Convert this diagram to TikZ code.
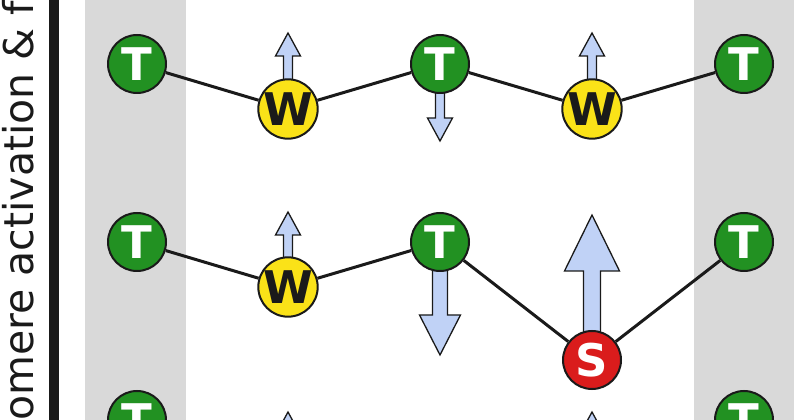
\documentclass[tikz,border=0pt]{standalone}
\usepackage{fontspec}
\setmainfont{DejaVu Sans}
\usetikzlibrary{calc}

\definecolor{tgreen}{RGB}{34,145,34}
\definecolor{wyellow}{RGB}{250,226,24}
\definecolor{sred}{RGB}{218,28,28}
\definecolor{arrblue}{RGB}{192,210,246}
\definecolor{outl}{RGB}{26,26,26}
\definecolor{bandgray}{RGB}{217,217,217}

\pgfdeclarelayer{back}
\pgfsetlayers{back,main}

% block arrow: start, direction (1 up / -1 down), length, shaft half width, head half width, head length
\newcommand{\blockarrow}[6]{%
  \draw[arr,shift={(#1)},yscale=#2] (-#4,0) -- (-#4,#3-#6) -- (-#5,#3-#6)
    -- (0,#3) -- (#5,#3-#6) -- (#4,#3-#6) -- (#4,0) -- cycle;}

\begin{document}
\begin{tikzpicture}[x=1pt,y=1pt,
      mer/.style={circle,draw=outl,line width=2pt,minimum size=58pt,inner sep=0pt,
        font=\fontsize{45}{45}\selectfont\bfseries,text height=32.8pt,text depth=0pt},
      tnode/.style={mer,fill=tgreen,text=white},
      wnode/.style={mer,fill=wyellow,text=outl},
      snode/.style={mer,fill=sred,text=white},
      link/.style={draw=outl,line width=3pt},
      arr/.style={draw=outl,fill=arrblue,line width=1.3pt,line join=miter},
      sidetext/.style={rotate=90,anchor=base west,inner sep=0pt,text=outl,
        font=\fontsize{41}{41}\selectfont}]
      \useasboundingbox (0,0) rectangle (800,420);
      \clip (0,0) rectangle (800,420);

      \begin{pgfonlayer}{back}
      \fill[bandgray] (85,0) rectangle (186,420);
      \fill[bandgray] (694,0) rectangle (794,420);
      \fill[outl] (49,0) rectangle (59,420);
      \end{pgfonlayer}

      \node[sidetext] (title) at (33,-1) {omere activation \& f};

      % top row
      \node[tnode] (t1) at (137,356) {T};
      \node[wnode] (w1) at (288,311) {W};
      \node[tnode] (t2) at (440,356) {T};
      \node[wnode] (w2) at (592,311) {W};
      \node[tnode] (t3) at (744,356) {T};

      % middle row
      \node[tnode] (t4) at (137,178) {T};
      \node[wnode] (w3) at (288,133) {W};
      \node[tnode] (t5) at (440,178) {T};
      \node[snode] (s1) at (592,60) {S};
      \node[tnode] (t6) at (744,178) {T};

      % bottom row (cut off)
      \node[tnode] (t7) at (137,0) {T};
      \node[tnode] (t8) at (744,0) {T};
      \coordinate (w4) at (288,-68);
      \coordinate (w5) at (592,-68);

      \path[link]
      (t1) edge (w1)
      (w1) edge (t2)
      (t2) edge (w2)
      (w2) edge (t3)

      (t4) edge (w3)
      (w3) edge (t5)
      (t5) edge (s1)
      (s1) edge (t6)
      ;

      \begin{pgfonlayer}{back}
      \blockarrow{w1}{1}{76}{4.5}{12.5}{23}
      \blockarrow{t2}{-1}{77}{4.5}{12.5}{23}
      \blockarrow{w2}{1}{76}{4.5}{12.5}{23}
      \blockarrow{w3}{1}{75}{4.5}{12.5}{23}
      \blockarrow{t5}{-1}{113}{7.5}{20.5}{40}
      \blockarrow{s1}{1}{145}{8.5}{27.5}{56}
      \blockarrow{w4}{1}{76}{4.5}{12.5}{23}
      \blockarrow{w5}{1}{76}{4.5}{12.5}{23}
      \end{pgfonlayer}

      \end{tikzpicture}
\end{document}
